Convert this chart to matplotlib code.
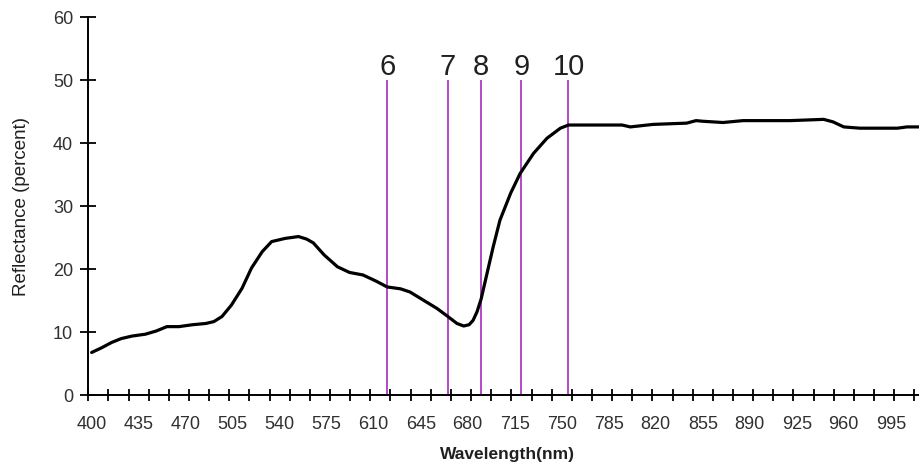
import matplotlib

matplotlib.use("Agg")
import matplotlib.pyplot as plt
import numpy as np

# reflectance spectrum
wavelength = [
    400, 407, 415, 422, 430, 440, 448, 456, 465, 475, 485, 491, 497, 504,
    512, 519, 527, 534, 544, 554, 560, 565, 573, 583, 592, 602, 612, 620,
    630, 637, 647, 657, 664, 672, 677, 681, 684, 687, 690, 694, 699, 704, 712,
    719, 729, 739, 749, 755, 775, 795, 801, 818, 843, 850, 855, 870, 885,
    920, 945, 952, 960, 972, 1000, 1007, 1016,
]
reflectance = [
    6.8, 7.5, 8.4, 9.0, 9.4, 9.7, 10.2, 10.9, 10.9, 11.2, 11.4, 11.7, 12.5, 14.3,
    17.0, 20.2, 22.8, 24.4, 24.9, 25.2, 24.8, 24.2, 22.3, 20.4, 19.5, 19.1, 18.1, 17.2,
    16.9, 16.4, 15.1, 13.8, 12.7, 11.4, 11.0, 11.2, 11.9, 13.3, 15.3, 19.0, 23.6, 27.8, 32.1,
    35.2, 38.4, 40.8, 42.4, 42.9, 42.9, 42.9, 42.6, 43.0, 43.2, 43.6, 43.5, 43.3, 43.6,
    43.6, 43.8, 43.4, 42.6, 42.4, 42.4, 42.6, 42.6,
]

# band markers
band_names = ["6", "7", "8", "9", "10"]
band_centers = [620, 665, 690, 720, 755]
band_top = 50

x_labels = list(range(400, 1000, 35))

fig = plt.figure(figsize=(9.19, 4.67), dpi=100)
ax = fig.add_axes([88.3 / 919, 1 - 395.3 / 467, 1 - 88.3 / 919, (395.3 - 17.3) / 467])

line_color = "#b448c8"
for name, c in zip(band_names, band_centers):
    ax.vlines(c, 0, band_top, color=line_color, linewidth=1.4, zorder=2)
    ax.text(c, band_top + 0.8, name, ha="center", va="baseline",
            fontsize=21, family="Liberation Sans", color="#202020")

ax.plot(wavelength, reflectance, color="black", linewidth=2.3, zorder=3,
        solid_joinstyle="round", solid_capstyle="round")

ax.set_xlim(397.5, 1016)
ax.set_ylim(0, 60)

ax.spines["top"].set_visible(False)
ax.spines["right"].set_visible(False)
ax.spines["left"].set_linewidth(1.4)
ax.spines["bottom"].set_linewidth(1.4)

ax.set_xticks(x_labels)
ax.set_xticklabels([str(v) for v in x_labels])
ax.set_xticks(np.arange(397.5, 1017, 15), minor=True)
ax.tick_params(axis="x", which="major", length=0, pad=15,
               labelsize=13, labelcolor="#303030")
ax.tick_params(axis="x", which="minor", direction="inout", length=9, width=1.3)

ax.set_yticks(range(0, 61, 10))
ax.tick_params(axis="y", direction="inout", length=12, width=1.3, pad=5,
               labelsize=13, labelcolor="#303030")

for lab in ax.get_xticklabels() + ax.get_yticklabels():
    lab.set_family("Liberation Sans")

fig.text(22 / 919, 1 - 206 / 467, "Reflectance (percent)", rotation=90,
         ha="center", va="center", fontsize=13.5, family="Liberation Sans",
         color="#202020")
fig.text(507 / 919, 1 - 455 / 467, "Wavelength(nm)", ha="center", va="center",
         fontsize=12.5, fontweight="bold", family="Liberation Sans",
         color="#202020")

fig.savefig("out.png", dpi=100)
